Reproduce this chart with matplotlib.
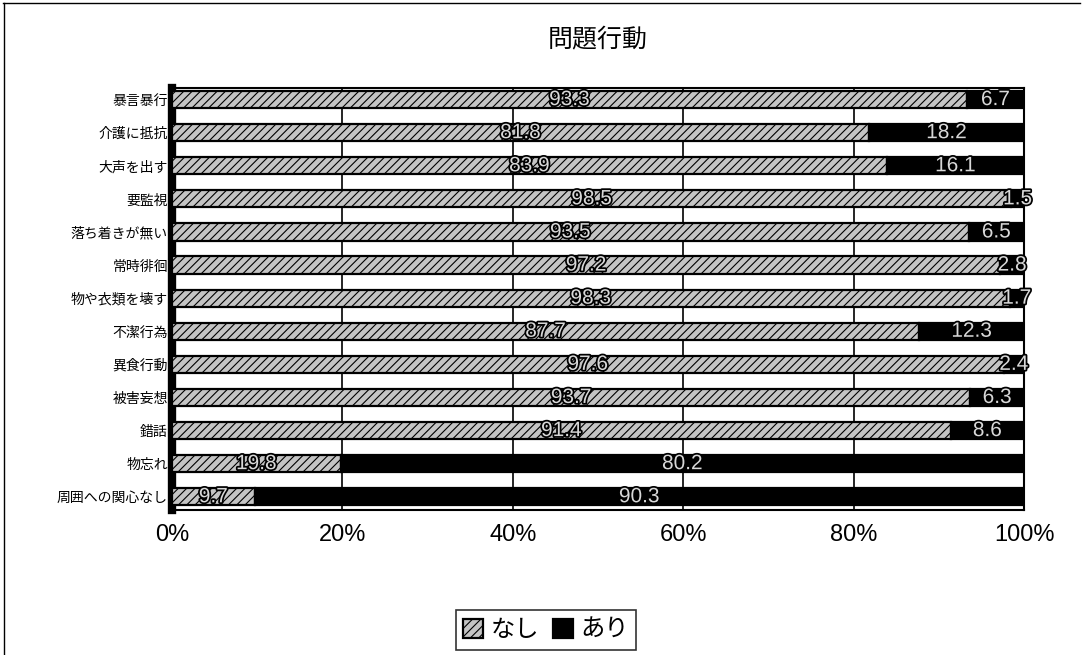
import matplotlib
matplotlib.use("Agg")
import matplotlib.pyplot as plt
import matplotlib.patheffects as pe
import numpy as np

plt.rcParams['font.family'] = ['Noto Sans CJK JP', 'DejaVu Sans']
plt.rcParams['hatch.color'] = '#4a4a4a'
plt.rcParams['hatch.linewidth'] = 0.8

# 問題行動の有無（%）
categories = ['暴言暴行', '介護に抵抗', '大声を出す', '要監視', '落ち着きが無い',
              '常時徘徊', '物や衣類を壊す', '不潔行為', '異食行動', '被害妄想',
              '錯話', '物忘れ', '周囲への関心なし']
nashi = [93.3, 81.8, 83.9, 98.5, 93.5, 97.2, 98.3, 87.7, 97.6, 93.7, 91.4, 19.8, 9.7]
ari = [6.7, 18.2, 16.1, 1.5, 6.5, 2.8, 1.7, 12.3, 2.4, 6.3, 8.6, 80.2, 90.3]
x_ticks = [0, 20, 40, 60, 80, 100]
x_ticklabels = ['0%', '20%', '40%', '60%', '80%', '100%']
series_names = ['なし', 'あり']

fig = plt.figure(figsize=(10.83, 6.55), dpi=100)
ax = fig.add_axes([172 / 1083, 1 - 510 / 655, (1024 - 172) / 1083, (510 - 88) / 655])

y = np.arange(len(categories))
h = 0.52

b1 = ax.barh(y, nashi, height=h, color='#c4c4c4', hatch='////',
             edgecolor='black', linewidth=1.6, zorder=3, label=series_names[0])
b2 = ax.barh(y, ari, left=nashi, height=h, color='black',
             edgecolor='black', linewidth=1.6, zorder=3, label=series_names[1])

# 値ラベル（各区間の中央）
stroke = [pe.withStroke(linewidth=2.5, foreground='black')]
for i in range(len(categories)):
    for left, val in ((0, nashi[i]), (nashi[i], ari[i])):
        ax.text(left + val / 2, y[i], f'{val:.1f}', ha='center', va='center',
                fontsize=15, color='#d8d8d8', family=['Liberation Sans', 'DejaVu Sans'],
                path_effects=stroke, zorder=5)

ax.set_xlim(0, 100)
ax.set_ylim(len(categories) - 0.6, -0.35)
ax.set_xticks(x_ticks)
ax.set_xticklabels(x_ticklabels, fontsize=17, family=['Liberation Sans', 'DejaVu Sans'])
ax.set_yticks(y)
ax.set_yticklabels(categories, fontsize=10)
ax.tick_params(axis='x', length=0, pad=10)
ax.tick_params(axis='y', length=0, pad=3)

for xv in x_ticks[1:-1]:
    ax.axvline(xv, color='black', linewidth=1.2, zorder=1)

for side in ('top', 'right', 'bottom'):
    ax.spines[side].set_linewidth(1.5)
ax.spines['left'].set_linewidth(6)

fig.text(598 / 1083, 1 - 40 / 655, '問題行動', ha='center', va='center', fontsize=18)

leg = fig.legend(handles=[b1, b2], labels=series_names, loc='center',
                 bbox_to_anchor=(546 / 1083, 1 - 630 / 655), ncol=2,
                 fontsize=17.5, frameon=True, fancybox=False, edgecolor='black',
                 handlelength=0.8, handleheight=0.8, handletextpad=0.3,
                 columnspacing=0.6, borderpad=0.3)
leg.get_frame().set_linewidth(1.2)

# 外枠（上と左）
fig.add_artist(plt.Line2D([0.003, 0.997], [0.996, 0.996], color='black', linewidth=1.0,
                          transform=fig.transFigure))
fig.add_artist(plt.Line2D([0.004, 0.004], [0.0, 0.996], color='black', linewidth=1.0,
                          transform=fig.transFigure))

fig.savefig('out.png', dpi=100)
